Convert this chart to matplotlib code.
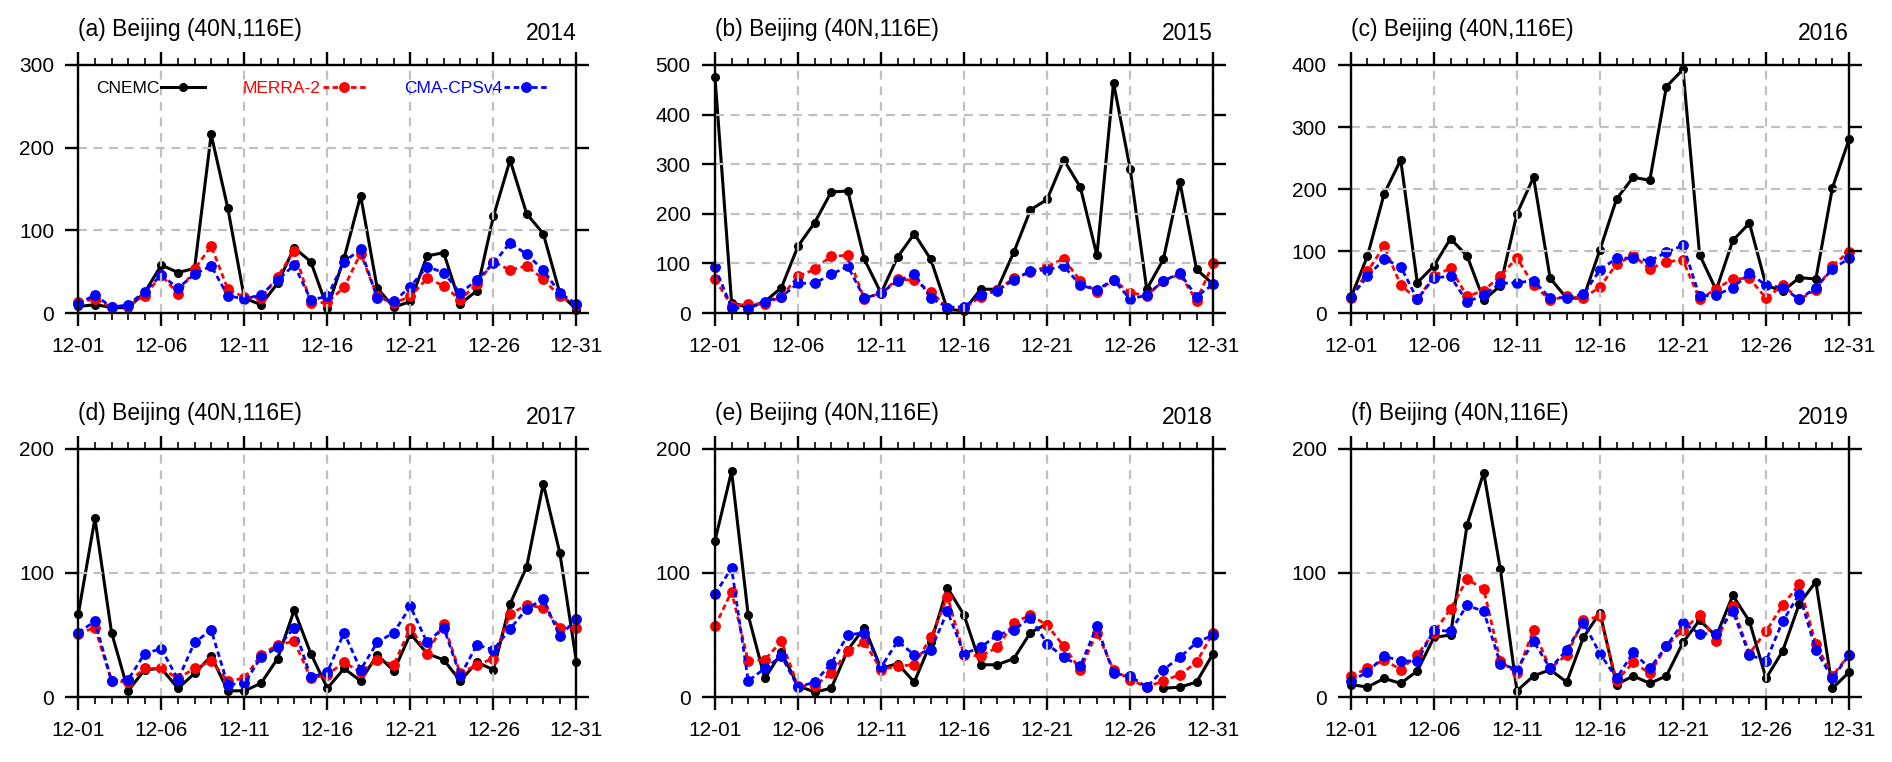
import matplotlib
matplotlib.use('Agg')
import matplotlib.pyplot as plt
import numpy as np

plt.rcParams['font.family'] = ['Liberation Sans', 'DejaVu Sans']

days = np.arange(1, 32)
day_ticks = [1, 6, 11, 16, 21, 26, 31]
day_labels = ['12-01', '12-06', '12-11', '12-16', '12-21', '12-26', '12-31']

years = ['2014', '2015', '2016', '2017', '2018', '2019']
letters = ['a', 'b', 'c', 'd', 'e', 'f']
y_max = [300, 500, 400, 200, 200, 200]

# CNEMC observations (black)
cnemc_2014 = [8, 10, 7, 6, 25, 58, 49, 54, 216, 127, 18, 10, 36, 79, 62, 6, 66, 142, 30, 7,
              14, 69, 73, 11, 27, 117, 185, 120, 96, 24, 4]
cnemc_2015 = [476, 21, 11, 23, 51, 135, 182, 244, 246, 108, 40, 113, 160, 108, 7, 5, 48, 48, 123, 208,
              229, 309, 254, 116, 464, 291, 48, 108, 264, 88, 58]
cnemc_2016 = [25, 92, 192, 247, 49, 76, 120, 92, 21, 44, 160, 219, 56, 24, 24, 102, 184, 219, 214, 365,
              393, 94, 37, 117, 145, 45, 35, 57, 55, 202, 280]
cnemc_2017 = [67, 144, 52, 5, 22, 23, 7, 19, 33, 5, 5, 11, 31, 70, 35, 7, 23, 13, 34, 21,
              51, 35, 30, 13, 28, 22, 75, 105, 172, 116, 28]
cnemc_2018 = [126, 182, 66, 15, 36, 9, 4, 7, 38, 56, 23, 27, 12, 44, 88, 66, 26, 26, 31, 52,
              59, np.nan, np.nan, np.nan, np.nan, np.nan, np.nan, 7, 8, 12, 35]
cnemc_2019 = [10, 8, 15, 11, 21, 48, 50, 139, 181, 103, 5, 17, 22, 12, 48, 68, 10, 17, 11, 17,
              44, 62, 49, 82, 61, 15, 37, 75, 93, 7, 20]

# MERRA-2 (red)
merra_2014 = [13, 17, 7, 9, 21, 46, 23, 53, 81, 29, 19, 18, 44, 75, 12, 13, 31, 72, 20, 12,
              20, 42, 33, 16, 35, 62, 52, 57, 41, 20, 10]
merra_2015 = [68, 15, 18, 18, 33, 74, 88, 115, 116, 28, 41, 68, 66, 43, 11, 9, 33, 47, 70, 82,
              94, 109, 65, 43, 67, 41, 35, 65, 78, 25, 100]
merra_2016 = [25, 67, 108, 45, 22, 60, 72, 27, 36, 60, 89, 45, 21, 27, 24, 42, 79, 93, 71, 83,
              85, 22, 39, 55, 56, 24, 45, 22, 37, 76, 99]
merra_2017 = [51, 56, 13, 12, 23, 23, 15, 23, 29, 13, 15, 34, 42, 45, 15, 18, 28, 20, 30, 26,
              56, 35, 59, 19, 26, 31, 67, 74, 72, 56, 56]
merra_2018 = [57, 85, 29, 30, 45, 9, 9, 19, 37, 44, 22, 25, 26, 48, 81, 34, 33, 40, 60, 66,
              58, 41, 22, 52, 22, 14, 8, 13, 18, 28, 52]
merra_2019 = [17, 23, 30, 22, 34, 52, 71, 95, 87, 29, 19, 54, 23, 34, 62, 65, 13, 28, 19, 41,
              54, 66, 45, 73, 35, 53, 74, 91, 43, 17, 34]

# CMA-CPSv4 (blue)
cma_2014 = [11, 22, 7, 10, 26, 46, 30, 47, 57, 21, 17, 22, 40, 58, 16, 20, 62, 77, 18, 14,
            32, 56, 49, 24, 40, 60, 85, 71, 52, 24, 11]
cma_2015 = [92, 11, 9, 23, 33, 60, 60, 78, 94, 30, 40, 65, 78, 31, 11, 13, 36, 45, 67, 85,
            87, 95, 56, 47, 67, 28, 36, 65, 80, 33, 58]
cma_2016 = [26, 59, 87, 75, 22, 57, 59, 18, 29, 48, 49, 52, 24, 25, 30, 70, 88, 89, 84, 98,
            109, 27, 29, 41, 64, 45, 41, 22, 41, 71, 88]
cma_2017 = [52, 61, 13, 14, 35, 39, 14, 44, 54, 10, 11, 32, 40, 56, 16, 20, 52, 22, 44, 52,
            73, 44, 56, 17, 42, 38, 55, 71, 79, 49, 63]
cma_2018 = [83, 104, 13, 23, 33, 8, 12, 27, 50, 52, 24, 45, 34, 38, 69, 35, 40, 50, 54, 64,
            43, 32, 25, 57, 19, 17, 8, 22, 32, 44, 50]
cma_2019 = [13, 20, 33, 29, 29, 54, 53, 74, 69, 27, 22, 45, 23, 38, 60, 35, 15, 36, 23, 41,
            60, 51, 51, 69, 34, 29, 61, 83, 38, 15, 34]

cnemc = [cnemc_2014, cnemc_2015, cnemc_2016, cnemc_2017, cnemc_2018, cnemc_2019]
merra = [merra_2014, merra_2015, merra_2016, merra_2017, merra_2018, merra_2019]
cma = [cma_2014, cma_2015, cma_2016, cma_2017, cma_2018, cma_2019]

fig = plt.figure(figsize=(18.92, 7.62), dpi=100)

lefts = [0.0414, 0.3779, 0.714]
bottoms = [0.5892, 0.0853]
w, h = 0.2633, 0.3255

grid_style = dict(color='#c0c0c0', linewidth=1.6, linestyle=(0, (4.0, 3.0)))

for i in range(6):
    ax = fig.add_axes([lefts[i % 3], bottoms[i // 3], w, h])
    ax.plot(days, cnemc[i], color='black', lw=2.2, marker='o', ms=5.5,
            label='CNEMC', clip_on=False)
    ax.plot(days, merra[i], color='red', lw=2.0, ls=(0, (2.0, 1.3)), marker='o', ms=6.8,
            label='MERRA-2', clip_on=False)
    ax.plot(days, cma[i], color='blue', lw=2.0, ls=(0, (2.0, 1.3)), marker='o', ms=6.8,
            label='CMA-CPSv4', clip_on=False)

    ax.set_xlim(1, 31)
    ax.set_ylim(0, y_max[i])
    ax.set_xticks(day_ticks)
    ax.set_xticklabels(day_labels)
    ax.set_xticks(days, minor=True)
    ax.set_yticks(np.arange(0, y_max[i] + 1, 100))

    ax.set_axisbelow(False)
    ax.grid(True, which='major', **grid_style)

    for s in ax.spines.values():
        s.set_linewidth(1.7)
        s.set_zorder(5)
    ax.tick_params(which='both', direction='out', top=True, right=True,
                   labeltop=False, labelright=False, labelsize=15)
    ax.tick_params(which='major', length=9.5, width=1.7, pad=8)
    ax.tick_params(which='minor', length=5, width=1.2)

    ax.text(0.0, 1.117, '(%s) Beijing (40N,116E)' % letters[i], transform=ax.transAxes,
            ha='left', va='baseline', fontsize=16.5)
    ax.text(1.0, 1.101, years[i], transform=ax.transAxes,
            ha='right', va='baseline', fontsize=16.5)

    if i == 0:
        leg = ax.legend(loc='upper left', bbox_to_anchor=(0.022, 0.965), ncol=3,
                        markerfirst=False, frameon=False, fontsize=12.5,
                        handlelength=2.5, handletextpad=0.1, columnspacing=2.2,
                        borderaxespad=0)
        for txt, col in zip(leg.get_texts(), ['black', 'red', 'blue']):
            txt.set_color(col)

fig.savefig('out.png', dpi=100)
